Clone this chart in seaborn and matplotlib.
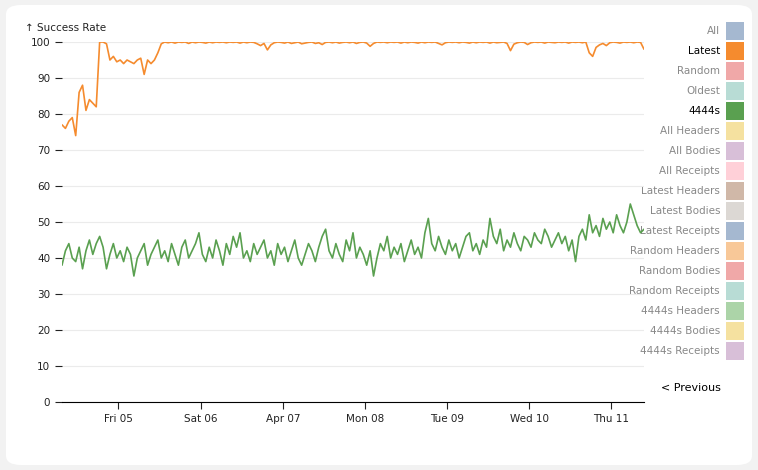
import pandas as pd
import matplotlib.pyplot as plt
import seaborn as sns
from matplotlib.patches import FancyBboxPatch, Rectangle

sns.set_theme(style="white")
plt.rcParams['font.family'] = ['DejaVu Sans']

# hourly samples starting Thu 04 Apr 2024 07:30
start = "2024-04-04 07:30"

latest = [77, 76, 78, 79, 74, 86, 88, 81, 84, 83, 82, 100, 100, 99.5, 95, 96, 94.5, 95, 94, 95,
          94.5, 94, 95, 95.5, 91, 95, 94, 95, 97, 99.5, 100, 99.8, 100, 99.7, 100, 99.9, 100, 99.6, 100, 99.8,
          100, 99.9, 99.7, 100, 99.8, 100, 99.9, 100, 99.8, 100, 99.9, 100, 99.7, 100, 99.8, 100, 99.9, 99.5, 99, 99.6,
          97.8, 99.2, 99.8, 100, 99.9, 99.7, 100, 99.6, 99.8, 100, 99.5, 99.7, 99.9, 100, 99.6, 99.8, 99.3, 99.9, 100, 99.8,
          100, 99.7, 99.9, 100, 99.8, 100, 99.6, 99.9, 100, 99.7, 98.8, 99.6, 100, 99.9, 100, 99.8, 100, 99.9, 100, 99.7,
          100, 99.8, 100, 99.9, 99.7, 100, 99.8, 100, 99.9, 100, 99.6, 99.2, 99.8, 100, 99.9, 100, 99.8, 100, 99.9, 99.7,
          100, 99.8, 100, 99.9, 100, 99.7, 100, 99.8, 99.9, 100, 99.6, 97.6, 99.4, 99.8, 100, 99.9, 99.3, 99.8, 100, 99.9,
          100, 99.7, 100, 99.9, 99.8, 100, 99.9, 100, 99.7, 100, 99.9, 100, 99.8, 100, 97, 96, 98.5, 99.2, 99.6, 99,
          99.8, 100, 99.9, 99.7, 100, 99.9, 100, 99.8, 100, 99.9, 98]

s4444 = [38, 42, 44, 40, 39, 43, 37, 42, 45, 41, 44, 46, 43, 37, 41, 44, 40, 42, 39, 43,
         41, 35, 40, 42, 44, 38, 41, 43, 45, 40, 42, 39, 44, 41, 38, 43, 45, 40, 42, 44,
         47, 41, 39, 43, 40, 45, 42, 38, 44, 41, 46, 43, 47, 40, 42, 39, 44, 41, 43, 45,
         40, 42, 38, 44, 41, 43, 39, 42, 45, 40, 38, 41, 44, 42, 39, 43, 46, 48, 42, 40,
         44, 41, 39, 45, 42, 47, 40, 43, 41, 38, 42, 35, 40, 44, 42, 46, 40, 43, 41, 44,
         39, 42, 45, 41, 43, 40, 47, 51, 44, 42, 46, 43, 41, 45, 42, 44, 40, 43, 46, 47,
         42, 44, 41, 45, 43, 51, 46, 44, 48, 42, 45, 43, 47, 44, 42, 46, 45, 43, 47, 45,
         44, 48, 46, 43, 45, 47, 44, 46, 42, 45, 39, 46, 48, 45, 52, 47, 49, 46, 51, 48,
         50, 47, 52, 49, 47, 50, 55, 52, 49, 47, 48]

legend_labels = ["All", "Latest", "Random", "Oldest", "4444s", "All Headers", "All Bodies",
                 "All Receipts", "Latest Headers", "Latest Bodies", "Latest Receipts",
                 "Random Headers", "Random Bodies", "Random Receipts", "4444s Headers",
                 "4444s Bodies", "4444s Receipts"]
legend_colors = ["#a5b8d0", "#f58b2e", "#f0a8a8", "#b8dcd5", "#5aa050", "#f5e1a0", "#d8bfd8",
                 "#ffd0d8", "#d0b8a8", "#dcd8d4", "#a5b8d0", "#f8c898", "#f0a8a8", "#b8dcd5",
                 "#acd4a8", "#f5e1a0", "#d8bfd8"]
active = ["Latest", "4444s"]

tick_days = pd.date_range("2024-04-05", periods=7, freq="D")
tick_labels = ["Fri 05", "Sat 06", "Apr 07", "Mon 08", "Tue 09", "Wed 10", "Thu 11"]

df = pd.DataFrame({
    "time": list(pd.date_range(start, periods=len(latest), freq="h")) +
            list(pd.date_range(start, periods=len(s4444), freq="h")),
    "value": latest + s4444,
    "series": ["Latest"] * len(latest) + ["4444s"] * len(s4444),
})

fig = plt.figure(figsize=(7.58, 4.70), dpi=100)
fig.patch.set_facecolor("#f2f2f2")
card = FancyBboxPatch((6 / 758, 5 / 470), 746 / 758, 460 / 470,
                      boxstyle="round,pad=0,rounding_size=0.02",
                      transform=fig.transFigure, facecolor="white",
                      edgecolor="none", zorder=-10)
fig.patches.append(card)

ax = fig.add_axes([62 / 758, 68 / 470, 582 / 758, 360 / 470])
ax.set_zorder(5)
ax.set_facecolor("none")
sns.lineplot(data=df, x="time", y="value", hue="series",
             palette={"Latest": "#f58b2e", "4444s": "#5aa050"}, linewidth=1.2,
             legend=False, ax=ax)
ax.set_xlim(pd.Timestamp(start), pd.Timestamp(start) + pd.Timedelta(hours=170))
ax.set_ylim(0, 100)
ax.set_yticks(range(0, 101, 10))
ax.set_xticks(tick_days)
ax.set_xticklabels(tick_labels)
ax.grid(axis="y", color="#ebebeb", linewidth=0.8)
for s in ["top", "right", "left"]:
    ax.spines[s].set_visible(False)
ax.spines["bottom"].set_color("black")
ax.spines["bottom"].set_linewidth(0.8)
ax.tick_params(axis="both", labelsize=7.5, colors="#222222", length=5, width=0.8, left=True, bottom=True)
ax.set_xlabel("")
ax.set_ylabel("")
fig.text(25 / 758, 1 - 28 / 470, "↑ Success Rate", fontsize=7.5, va="center", color="#222222")

for i, (lab, col) in enumerate(zip(legend_labels, legend_colors)):
    yc = 31 + i * 20
    fig.text(720 / 758, 1 - yc / 470, lab, fontsize=7.5, ha="right", va="center",
             color="black" if lab in active else "#888888")
    fig.patches.append(Rectangle((726 / 758, 1 - (yc + 9) / 470), 18 / 758, 18 / 470,
                                 transform=fig.transFigure, facecolor=col, edgecolor="none"))
fig.text(721 / 758, 1 - 388 / 470, "< Previous", fontsize=8, ha="right", va="center", color="black")

fig.savefig("out.png", dpi=100, facecolor=fig.get_facecolor())
